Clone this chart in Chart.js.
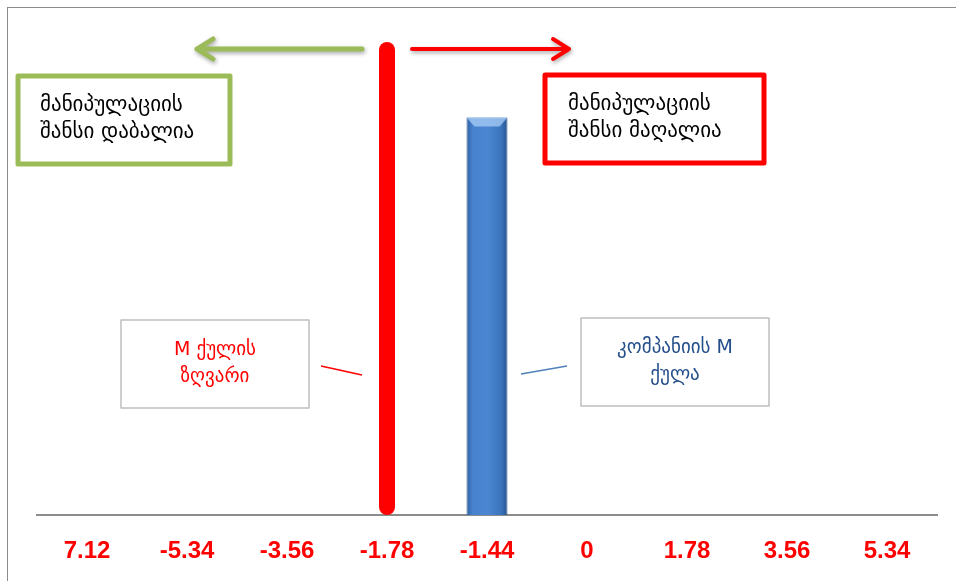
<!DOCTYPE html>
<html lang="ka">
<head>
  <meta charset="UTF-8" />
  <title>M ქულა</title>
  <script src="https://cdn.jsdelivr.net/npm/chart.js"></script>
  <style>
    html, body {
      margin: 0;
      padding: 0;
      background: #ffffff;
      overflow: hidden;
    }
    .frame {
      position: absolute;
      left: 7px;
      top: 7px;
      width: 960px;
      height: 600px;
      border-left: 1px solid #8c8c8c;
      border-top: 1px solid #8c8c8c;
    }
    canvas {
      position: absolute;
      left: 0;
      top: 0;
    }
  </style>
</head>
<body>
  <div class="frame"></div>
  <canvas id="mChart" width="956" height="581"></canvas>

  <script>
    // კატეგორიები (ღერძის წარწერები)
    const categories = ['7.12', '-5.34', '-3.56', '-1.78', '-1.44', '0', '1.78', '3.56', '5.34'];
    // M ქულის ზღვარი (წითელი ხაზი)
    const thresholdValues = [null, null, null, 1.19, null, null, null, null, null];
    // კომპანიის M ქულა (ლურჯი სვეტი)
    const companyValues = [null, null, null, null, 1.0, null, null, null, null];

    const geoFont = '"DejaVu Sans", sans-serif';

    function blueGradient(ctx) {
      const chart = ctx.chart;
      const xs = chart.scales.x;
      if (!xs || !chart.chartArea) return '#4a84cc';
      const cx = xs.getPixelForValue(ctx.dataIndex);
      const w = (xs.width / categories.length) * 0.41;
      if (!Number.isFinite(cx) || !Number.isFinite(w)) return '#4a84cc';
      const g = chart.ctx.createLinearGradient(cx - w / 2, 0, cx + w / 2, 0);
      g.addColorStop(0, '#3163a6');
      g.addColorStop(0.15, '#4782cd');
      g.addColorStop(0.5, '#4a86d2');
      g.addColorStop(0.85, '#3b74bc');
      g.addColorStop(1, '#28538c');
      return g;
    }

    function arrow(c, x1, x2, y, color, w) {
      const dir = x2 > x1 ? 1 : -1;
      c.save();
      c.strokeStyle = color;
      c.lineWidth = w;
      c.lineCap = 'round';
      c.lineJoin = 'round';
      c.shadowColor = 'rgba(0,0,0,0.35)';
      c.shadowBlur = 4;
      c.shadowOffsetX = 1;
      c.shadowOffsetY = 2;
      c.beginPath();
      c.moveTo(x1, y);
      c.lineTo(x2, y);
      c.moveTo(x2 - dir * 16, y - 10);
      c.lineTo(x2, y);
      c.lineTo(x2 - dir * 16, y + 10);
      c.stroke();
      c.restore();
    }

    function textBox(c, x, y, w, h, border, lw, lines, color, align, tx, size) {
      c.save();
      c.fillStyle = '#ffffff';
      c.fillRect(x, y, w, h);
      c.strokeStyle = border;
      c.lineWidth = lw;
      c.lineJoin = 'round';
      c.strokeRect(x, y, w, h);
      c.fillStyle = color;
      c.font = size + 'px ' + geoFont;
      c.textAlign = align;
      c.textBaseline = 'middle';
      const cy = y + h / 2 - 14;
      lines.forEach((t, i) => c.fillText(t, tx, cy + i * 27));
      c.restore();
    }

    function line(c, x1, y1, x2, y2, color) {
      c.save();
      c.strokeStyle = color;
      c.lineWidth = 1.5;
      c.beginPath();
      c.moveTo(x1, y1);
      c.lineTo(x2, y2);
      c.stroke();
      c.restore();
    }

    const annotations = {
      id: 'annotations',
      afterDatasetsDraw(chart) {
        const c = chart.ctx;
        const x = chart.scales.x;
        const redX = x.getPixelForValue(3);
        const blueX = x.getPixelForValue(4);

        // ლურჯი სვეტის ზედა ფასკა
        const bar = chart.getDatasetMeta(1).data[4];
        if (bar) {
          const l = bar.x - bar.width / 2, r = bar.x + bar.width / 2, t = bar.y;
          c.save();
          c.fillStyle = 'rgba(170, 205, 245, 0.75)';
          c.beginPath();
          c.moveTo(l, t);
          c.lineTo(r, t);
          c.lineTo(r - 8, t + 9);
          c.lineTo(l + 8, t + 9);
          c.closePath();
          c.fill();
          c.restore();
        }

        arrow(c, redX - 25, redX - 190, 49, '#9bbb59', 5);
        arrow(c, redX + 25, redX + 182, 49, '#ff0000', 4);

        textBox(c, 18, 76, 212, 88, '#9bbb59', 5,
          ['მანიპულაციის', 'შანსი დაბალია'], '#000000', 'left', 40, 21);
        textBox(c, 545, 75, 219, 88, '#ff0000', 5,
          ['მანიპულაციის', 'შანსი მაღალია'], '#000000', 'left', 568, 21);

        textBox(c, 121, 320, 188, 88, '#bfbfbf', 1.5,
          ['M ქულის', 'ზღვარი'], '#ff0000', 'center', 215, 19);
        textBox(c, 581, 318, 188, 88, '#bfbfbf', 1.5,
          ['კომპანიის M', 'ქულა'], '#254f8a', 'center', 675, 19);

        line(c, 321, 366, redX - 25, 375, '#ff0000');
        line(c, blueX + 34, 374, 567, 366, '#4f81bd');
      }
    };

    new Chart(document.getElementById('mChart'), {
      type: 'bar',
      data: {
        labels: categories,
        datasets: [
          {
            label: 'M ქულის ზღვარი',
            data: thresholdValues,
            backgroundColor: '#ff0000',
            barPercentage: 0.16,
            categoryPercentage: 1,
            borderRadius: 8,
            borderSkipped: false,
            grouped: false
          },
          {
            label: 'კომპანიის M ქულა',
            data: companyValues,
            backgroundColor: blueGradient,
            borderColor: '#2c5a94',
            borderWidth: 1,
            barPercentage: 0.41,
            categoryPercentage: 1,
            grouped: false
          }
        ]
      },
      options: {
        responsive: false,
        animation: false,
        layout: { padding: { left: 37, right: 19, top: 22, bottom: 16 } },
        plugins: {
          legend: { display: false },
          tooltip: { enabled: false }
        },
        scales: {
          x: {
            afterFit: (scale) => { scale.height = 50; },
            grid: { display: false, drawTicks: false },
            border: { display: true, color: '#8c8c8c', width: 2 },
            ticks: {
              color: '#ff0000',
              padding: 22,
              font: { family: '"Liberation Sans", Arial, sans-serif', size: 24, weight: 'bold' }
            }
          },
          y: {
            display: false,
            min: 0,
            max: 1.24
          }
        }
      },
      plugins: [annotations]
    });
  </script>
</body>
</html>
